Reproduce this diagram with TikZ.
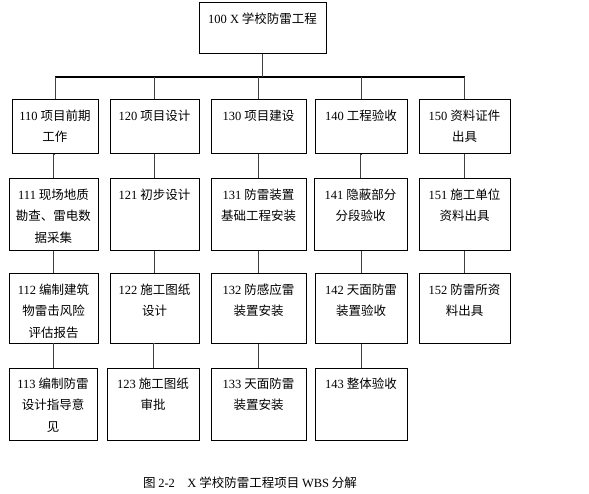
\documentclass[tikz,border=0pt]{standalone}
\usepackage{fontspec}
\setmainfont{Noto Sans CJK SC}
\newfontfamily\tnr{Liberation Serif}
\newcommand\nm[1]{{\tnr #1}}
\begin{document}
\begin{tikzpicture}[x=1pt,y=-1pt,
  box/.style={draw,line width=1pt,inner sep=0pt},
  txt/.style={anchor=north,align=center,inner sep=0pt,font=\fontsize{12.5}{21.5}\selectfont},
  conn/.style={draw,line width=0.6pt,black!75},
  bar/.style={draw,line width=1.6pt,black}]
\useasboundingbox (0,0) rectangle (589,494);
\newcommand\bx[6]{%
  \node[box,minimum width={#3-#2},minimum height={#5-#4}] (#1) at ({(#2+#3)/2},{(#4+#5)/2}) {};
  \node[txt] at ([yshift=-10pt]#1.north) {#6};}
% level 0
\bx{t}{199}{326}{3}{54}{\nm{100 X} 学校防雷工程}
% level 1
\bx{a1}{12}{98}{100}{154}{\nm{110} 项目前期\\工作}
\bx{a2}{110}{199}{100}{154}{\nm{120} 项目设计}
\bx{a3}{211}{306}{100}{154}{\nm{130} 项目建设}
\bx{a4}{315}{407}{100}{154}{\nm{140} 工程验收}
\bx{a5}{419}{510}{100}{154}{\nm{150} 资料证件\\出具}
% level 2
\bx{b1}{9}{98}{179}{251}{\nm{111} 现场地质\\勘查、雷电数\\据采集}
\bx{b2}{110}{199}{179}{251}{\nm{121} 初步设计}
\bx{b3}{211}{306}{179}{251}{\nm{131} 防雷装置\\基础工程安装}
\bx{b4}{314}{407}{179}{251}{\nm{141} 隐蔽部分\\分段验收}
\bx{b5}{419}{510}{179}{251}{\nm{151} 施工单位\\资料出具}
% level 3
\bx{c1}{9}{98}{274}{343}{\nm{112} 编制建筑\\物雷击风险\\评估报告}
\bx{c2}{110}{199}{274}{343}{\nm{122} 施工图纸\\设计}
\bx{c3}{211}{306}{274}{343}{\nm{132} 防感应雷\\装置安装}
\bx{c4}{315}{407}{274}{343}{\nm{142} 天面防雷\\装置验收}
\bx{c5}{419}{510}{274}{343}{\nm{152} 防雷所资\\料出具}
% level 4
\bx{d1}{9}{97}{368}{440}{\nm{113} 编制防雷\\设计指导意\\见}
\bx{d2}{107}{199}{368}{440}{\nm{123} 施工图纸\\审批}
\bx{d3}{211}{306}{368}{440}{\nm{133} 天面防雷\\装置安装}
\bx{d4}{315}{407}{368}{440}{\nm{143} 整体验收}
% bar
\coordinate (barL) at (0,77);
\draw[bar] (a1.north |- barL) -- (a5.north |- barL);
\draw[conn] (t.south) -- (t.south |- barL);
\foreach \n in {a1,a2,a3,a4,a5}{\draw[conn] (\n.north) -- (\n.north |- barL);}
\foreach \p/\c in {a1/b1,a2/b2,a3/b3,a4/b4,a5/b5,b1/c1,b2/c2,b3/c3,b4/c4,b5/c5,c1/d1,c2/d2,c3/d3,c4/d4}{
  \draw[conn] (\p.south) -- (\p.south -| \c.north) -- (\c.north);}
% caption
\node[inner sep=0pt,font=\fontsize{12.5}{14}\selectfont] (cap) at (250,483) {图 \nm{2-2}\quad \nm{X} 学校防雷工程项目 \nm{WBS} 分解};
\end{tikzpicture}
\end{document}
